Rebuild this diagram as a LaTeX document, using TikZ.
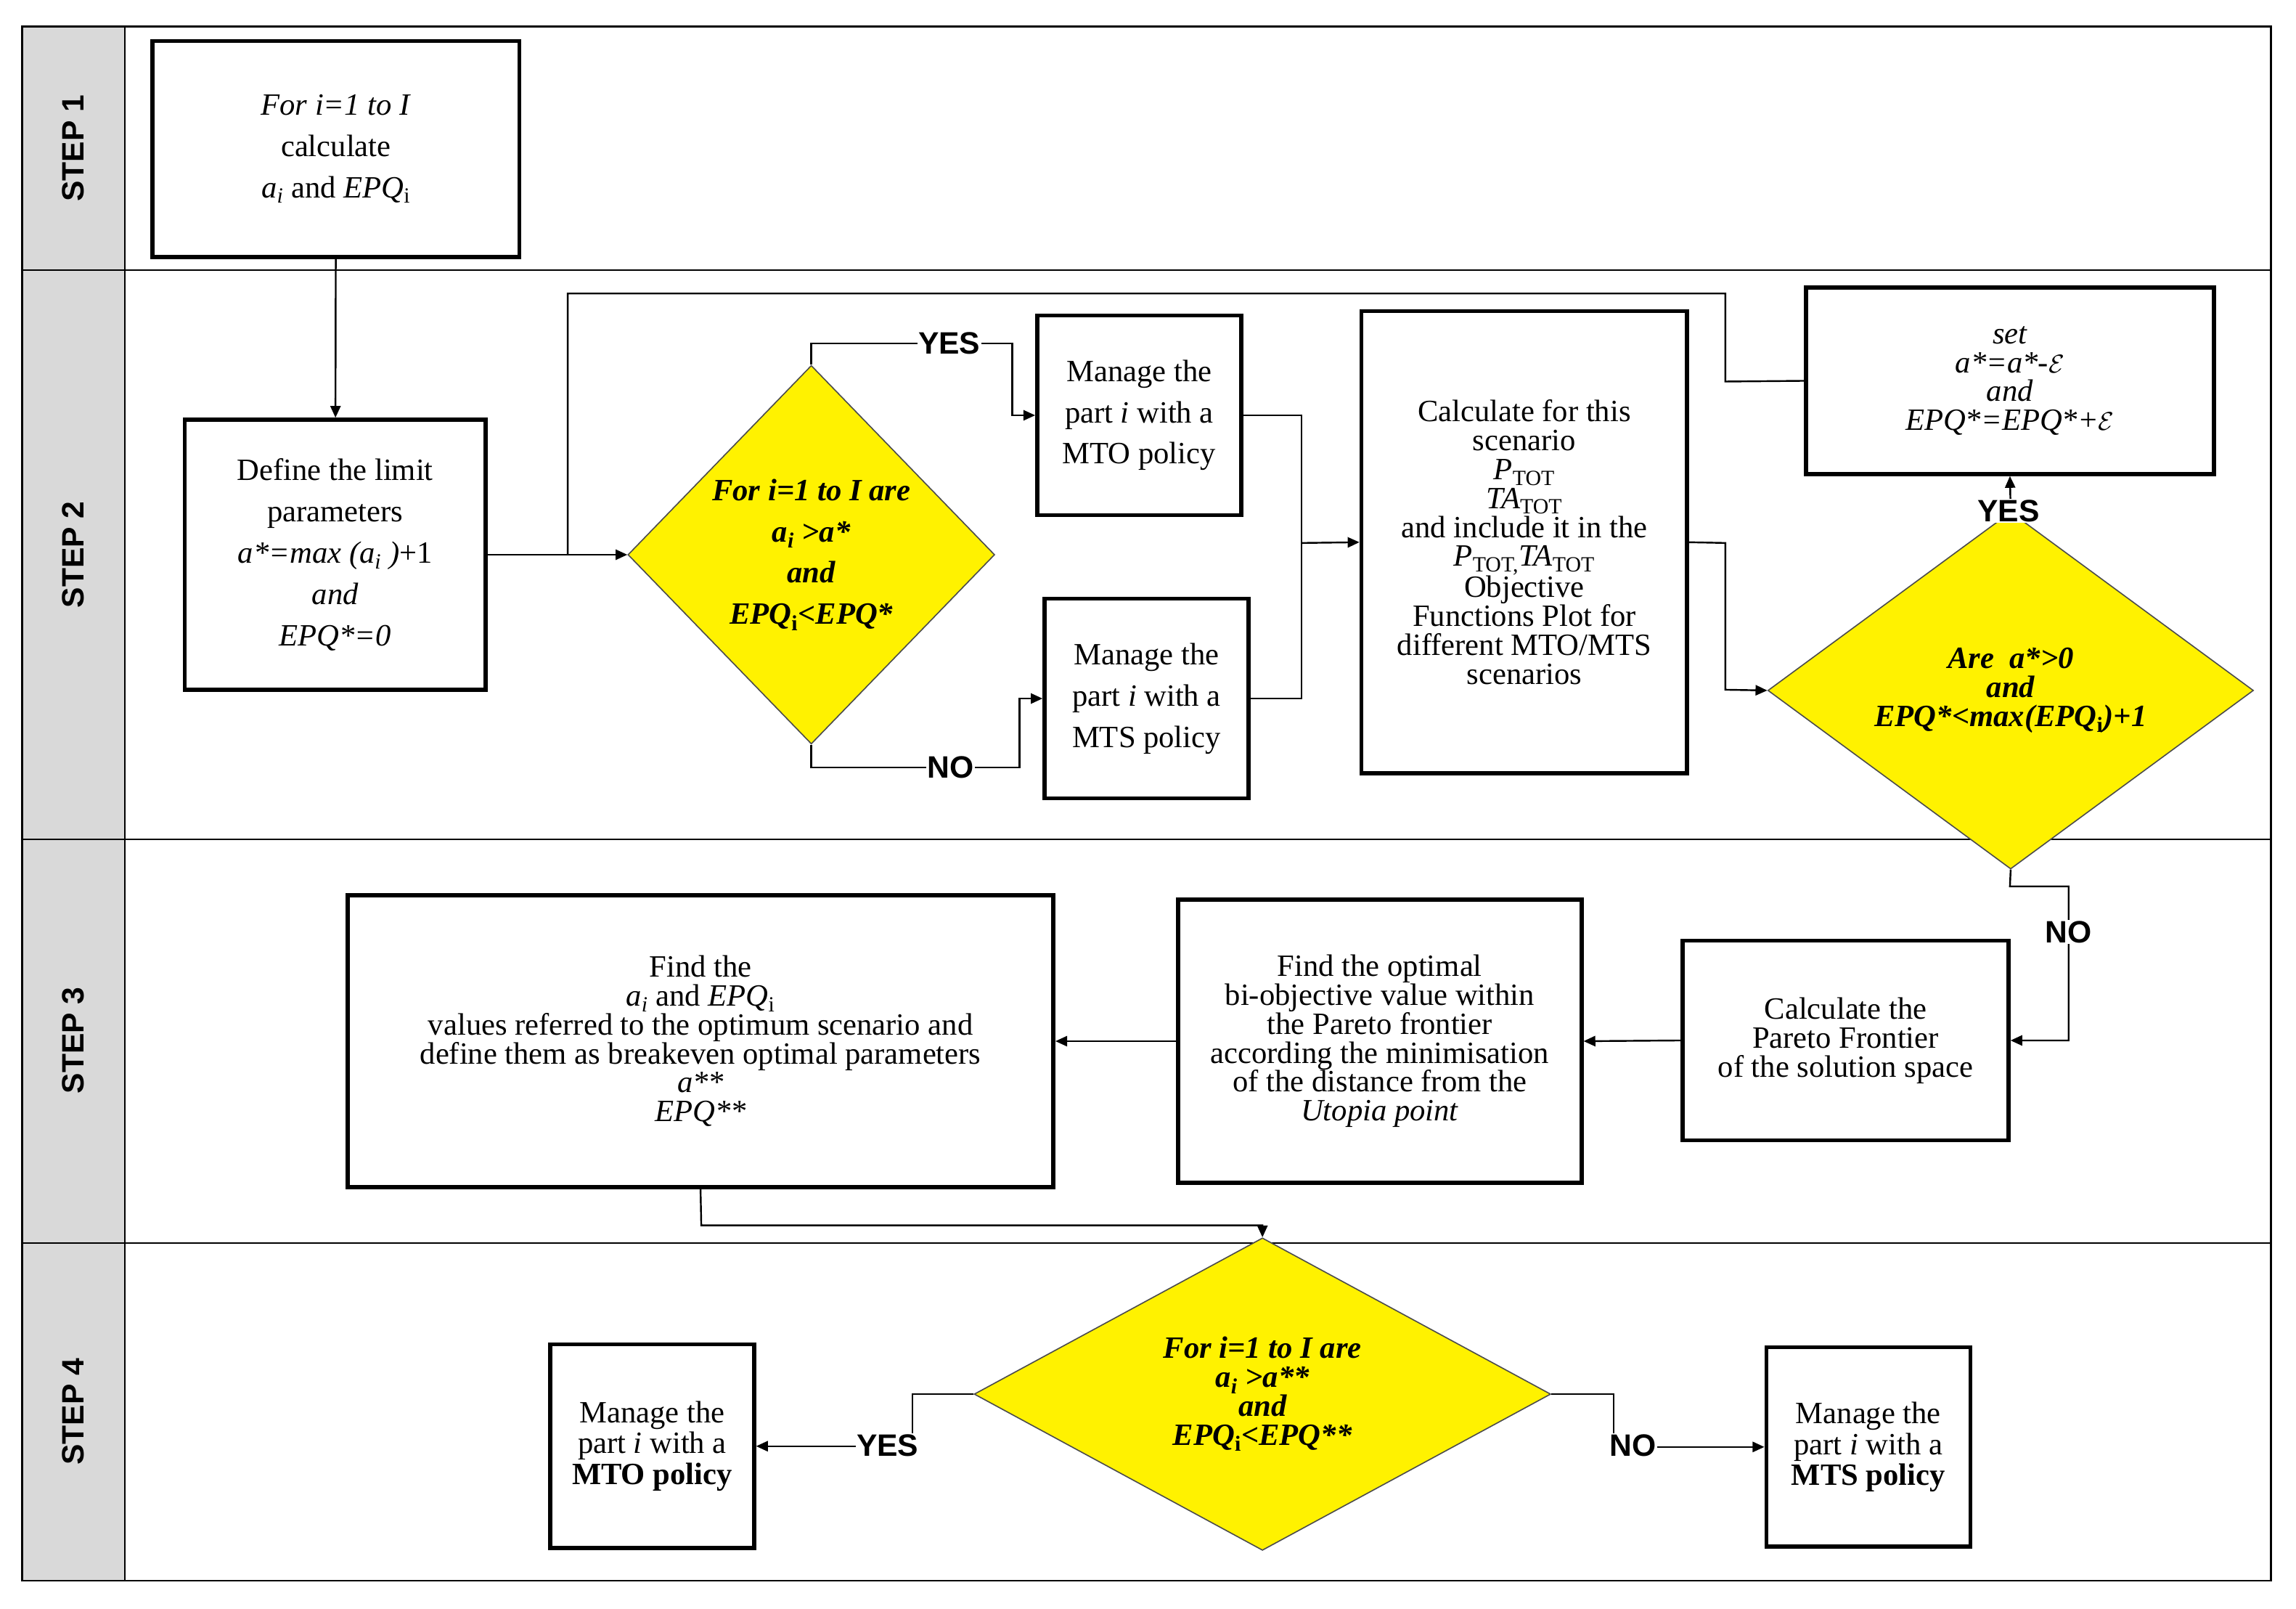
\documentclass[tikz,border=0pt]{standalone}
\usepackage{fontspec}
\setmainfont{Liberation Serif}
\newfontfamily\sansf{Liberation Sans}
\usetikzlibrary{shapes.geometric,arrows.meta}
\begin{document}
\begin{tikzpicture}[x=0.5mm,y=-0.5mm,
  box/.style={draw,line width=1.4mm,align=center,inner sep=0pt,font=\fontsize{30}{40}\selectfont},
  dia/.style={diamond,draw=black!70,line width=0.4mm,fill=yellow,align=center,inner sep=0pt,font=\fontsize{30}{40}\selectfont\bfseries\itshape},
  con/.style={line width=0.6mm},
  arr/.style={con,-{Triangle[length=4mm,width=3.5mm]}},
  lab/.style={font=\sansf\fontsize{30}{36}\selectfont\bfseries,fill=white,inner sep=1pt},
  steplab/.style={font=\sansf\fontsize{30}{36}\selectfont\bfseries,rotate=90}]
\useasboundingbox (0,0) rectangle (1565,1096.4);
% lanes
\fill[black!15] (15,18) rectangle (85,1077);
\draw[line width=0.6mm] (15,18) rectangle (1548,1077);
\draw[line width=0.6mm] (85,18) -- (85,1077);
\foreach \y in {184,572,847} \draw[line width=0.6mm] (15,\y) -- (1548,\y);
\node[steplab] (s1) at (50,101) {STEP 1};
\node[steplab] (s2) at (50,378) {STEP 2};
\node[steplab] (s3) at (50,709) {STEP 3};
\node[steplab] (s4) at (50,962) {STEP 4};
% step 1
\node[box,minimum width=125mm,minimum height=73.5mm] (b1) at (229,101.5) {\textit{For i=1 to I}\\calculate\\\textit{a\textsubscript{i}} and \textit{EPQ}\textsubscript{i}};
% step 2
\node[box,minimum width=102.5mm,minimum height=92mm] (def) at (228.5,378) {Define the limit\\parameters\\\textit{a*=max (a\textsubscript{i} )}+1\\\textit{and}\\\textit{EPQ*=0}};
\node[dia,minimum width=125mm,minimum height=129mm] (d1) at (553,378) {For i=1 to I are\\a\textsubscript{i} >a*\\and\\EPQ\textsubscript{\upshape i}<EPQ*};
\node[box,minimum width=69.5mm,minimum height=68mm] (mto) at (776.5,283) {Manage the\\part \textit{i} with a\\MTO policy};
\node[box,minimum width=69.5mm,minimum height=68mm] (mts) at (781.5,476) {Manage the\\part \textit{i} with a\\MTS policy};
\node[box,minimum width=111mm,minimum height=157.5mm,font=\fontsize{30}{28}\selectfont] (calc) at (1039,369.5) {Calculate for this\\scenario\\\textit{P}\textsubscript{TOT}\\\textit{TA}\textsubscript{TOT}\\and include it in the\\\textit{P}\textsubscript{TOT,}\textit{TA}\textsubscript{TOT}\\Objective\\Functions Plot for\\different MTO/MTS\\scenarios};
\node[box,minimum width=139mm,minimum height=63.5mm,font=\fontsize{30}{28}\selectfont\itshape] (set) at (1370,259.5) {set\\a*=a*-$\mathcal{E}$\\and\\EPQ*=EPQ*+$\mathcal{E}$};
\node[dia,minimum width=165.5mm,minimum height=92.5mm,font=\fontsize{30}{28}\selectfont\bfseries\itshape] (d2) at (1370.5,470.5) {Are\ \ a*>0\\and\\EPQ*<max(EPQ\textsubscript{\upshape i})+1};
% step 3
\node[box,minimum width=240.5mm,minimum height=99.5mm,font=\fontsize{30}{28}\selectfont] (find) at (477.5,709.5) {Find the\\\textit{a\textsubscript{i}} and \textit{EPQ}\textsubscript{i}\\values referred to the optimum scenario and\\define them as breakeven optimal parameters\\\textit{a**}\\\textit{EPQ**}};
\node[box,minimum width=137.5mm,minimum height=96.5mm,font=\fontsize{30}{28}\selectfont] (opt) at (940.5,709.5) {Find the optimal\\bi-objective value within\\the Pareto frontier\\according the minimisation\\of the distance from the\\\textit{Utopia point}};
\node[box,minimum width=111mm,minimum height=68mm,font=\fontsize{30}{28}\selectfont] (par) at (1258,709) {Calculate the\\Pareto Frontier\\of the solution space};
% step 4
\node[dia,minimum width=196.5mm,minimum height=97mm,font=\fontsize{30}{28}\selectfont\bfseries\itshape] (d3) at (860.5,950) {For i=1 to I are\\a\textsubscript{i} >a**\\and\\EPQ\textsubscript{\upshape i}<EPQ**};
\node[box,minimum width=69.5mm,minimum height=69.5mm,font=\fontsize{30}{30}\selectfont] (mto2) at (444.5,985.5) {Manage the\\part \textit{i} with a\\\textbf{MTO policy}};
\node[box,minimum width=69.5mm,minimum height=68mm,font=\fontsize{30}{30}\selectfont] (mts2) at (1273.5,986) {Manage the\\part \textit{i} with a\\\textbf{MTS policy}};
% connectors
\draw[arr] (b1) -- (def);
\draw[arr] (def) -- (d1.west);
\draw[con] (set.west) -- (1176,260) -- (1176,200) -- (387,200) -- (387,378);
\draw[arr] (d1.north) -- (553,234) -- (690,234) -- (690,283) -- (mto.west);
\node[lab] (y1) at (647,234) {YES};
\draw[arr] (d1.south) -- (553,523) -- (695,523) -- (695,476) -- (mts.west);
\node[lab] (n1) at (648,523) {NO};
\draw[con] (mto.east) -- (887,283) -- (887,476) -- (mts.east);
\draw[arr] (887,370) -- (calc.west);
\draw[arr] (calc.east) -- (1176,370) -- (1176,470) -- (d2.west);
\draw[arr] (d2.north) -- (set.south);
\node[lab] (y2) at (1369,348) {YES};
\draw[arr] (d2.south) -- (1370,604) -- (1410,604) -- (1410,709) -- (par.east);
\node[lab] (n2) at (1410,635) {NO};
\draw[arr] (par.west) -- (opt.east);
\draw[arr] (opt.west) -- (find.east);
\draw[arr] (find.south) -- (478,835) -- (860.5,835) -- (d3.north);
\draw[arr] (d3.west) -- (622,950) -- (622,985.5) -- (mto2.east);
\node[lab] (y3) at (605,985) {YES};
\draw[arr] (d3.east) -- (1100,950) -- (1100,986) -- (mts2.west);
\node[lab] (n3) at (1113,985) {NO};
\end{tikzpicture}
\end{document}
